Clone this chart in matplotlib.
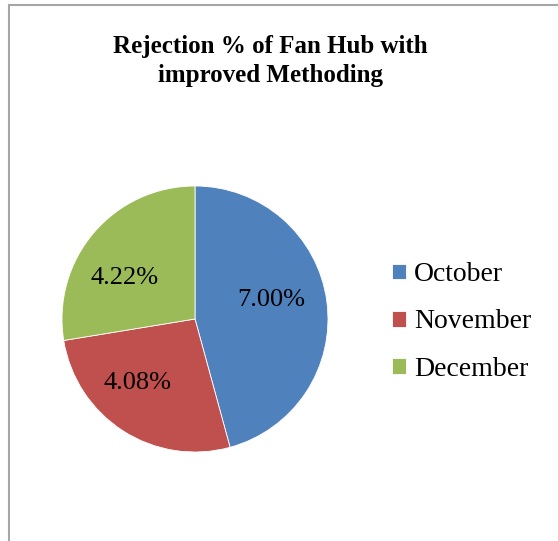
import matplotlib.pyplot as plt
from matplotlib.patches import Rectangle

months = ['October', 'November', 'December']
rejection = [7.00, 4.08, 4.22]
colors = ['#4F81BD', '#C0504D', '#9BBB59']

plt.rcParams['font.family'] = ['Liberation Serif', 'DejaVu Serif']

fig = plt.figure(figsize=(5.58, 5.41), dpi=100)

# frame of the chart area (only left and top visible in the reference)
fig.patches.append(Rectangle((9 / 558, -0.05), 1.2, 1 - 5 / 541 + 0.05,
                             transform=fig.transFigure, fill=False,
                             edgecolor='#A6A6A6', linewidth=1.5))

total = sum(rejection)
ax = fig.add_axes([62 / 558, 89 / 541, 266 / 558, 266 / 541])
wedges, texts, autotexts = ax.pie(rejection, colors=colors, startangle=90, counterclock=False,
                                  autopct=lambda p: '%.2f%%' % (p * total / 100), pctdistance=0.62,
                                  wedgeprops=dict(edgecolor='white', linewidth=0.6),
                                  textprops=dict(fontsize=19, color='black'))
# excel puts the data labels a bit differently than matplotlib
label_pos = [(0.575, 0.14), (-0.43, -0.48), (-0.53, 0.31)]
for t, xy in zip(autotexts, label_pos):
    t.set_position(xy)
ax.set_xlim(-1, 1)
ax.set_ylim(-1, 1)
ax.set_aspect('equal')

fig.text(270 / 558, 1 - 61 / 541, 'Rejection % of Fan Hub with\nimproved Methoding',
         ha='center', va='center', fontsize=18, fontweight='bold', linespacing=1.35)

fig.legend(wedges, months, loc='center left', bbox_to_anchor=(367 / 558, 1 - 322 / 541),
           frameon=False, fontsize=20, handlelength=0.5, handleheight=0.5,
           handletextpad=0.3, labelspacing=0.8)

fig.savefig('out.png', dpi=100)
